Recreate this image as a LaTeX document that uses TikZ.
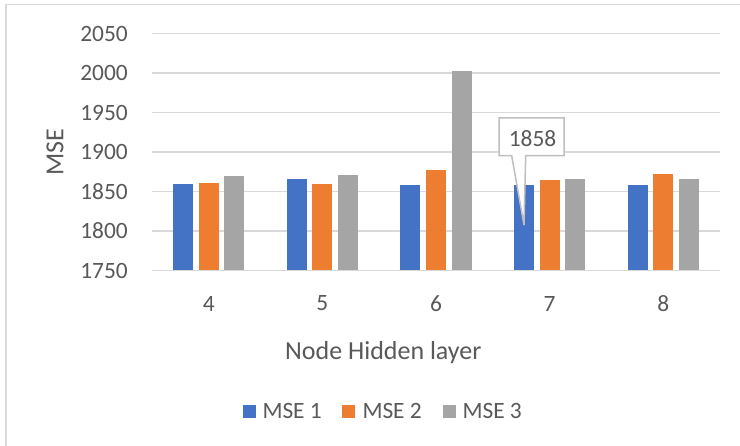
\documentclass[tikz,border=0pt]{standalone}
\usepackage{fontspec}
\setmainfont{Carlito}
\definecolor{txtgray}{HTML}{595959}
\definecolor{gridgray}{HTML}{D9D9D9}
\definecolor{bblue}{HTML}{4472C4}
\definecolor{borange}{HTML}{ED7D31}
\definecolor{bgray}{HTML}{A5A5A5}
\definecolor{callgray}{HTML}{BFBFBF}
\begin{document}
\begin{tikzpicture}[x=1pt,y=-1pt,
  ticklbl/.style={text=txtgray,font=\fontsize{23.4}{28}\selectfont,inner sep=0pt},
  titlelbl/.style={text=txtgray,font=\fontsize{26}{31}\selectfont,inner sep=0pt},
  gridline/.style={draw=gridgray,line width=1.5pt},
  framebox/.style={draw=gridgray,line width=1.5pt},
  legsq/.style={inner sep=0pt,minimum size=13pt},
  callbox/.style={draw=callgray,fill=white,line width=1.5pt,line join=miter}]
\useasboundingbox (0,0) rectangle (740,446);
\fill[white] (0,0) rectangle (740,446);
% outer chart frame (cropped at right and bottom)
\draw[framebox] (6,460) -- (6,4.7) -- (760,4.7);
% gridlines and value labels
\foreach \v in {1800,1850,1900,1950,2000,2050}{
  \pgfmathsetmacro{\yy}{270.5-(\v-1750)*0.79}
  \draw[gridline] (152,\yy) -- (720,\yy);
}
\foreach \v in {1750,1800,1850,1900,1950,2000,2050}{
  \pgfmathsetmacro{\yy}{270.5-(\v-1750)*0.79}
  \node[ticklbl,anchor=east] (t\v) at (128,\yy) {\v};
}
% bars
\foreach \i/\a/\b/\c in {0/1859.5/1860.4/1870,1/1865.4/1859.5/1870.9,2/1858.2/1877.2/2002.5,3/1858/1864.6/1866.2,4/1858.2/1872/1865.4}{
  \pgfmathsetmacro{\cx}{152+113.6*(\i+0.5)}
  \pgfmathsetmacro{\ya}{270.5-(\a-1750)*0.79}
  \pgfmathsetmacro{\yb}{270.5-(\b-1750)*0.79}
  \pgfmathsetmacro{\yc}{270.5-(\c-1750)*0.79}
  \fill[bblue] (\cx-35.6,270.5) rectangle (\cx-15.6,\ya);
  \fill[borange] (\cx-10,270.5) rectangle (\cx+10,\yb);
  \fill[bgray] (\cx+15.6,270.5) rectangle (\cx+35.6,\yc);
}
% category axis line
\draw[gridline] (152,270.5) -- (720,270.5);
% category labels
\foreach \i/\n in {0/4,1/5,2/6,3/7,4/8}{
  \pgfmathsetmacro{\cx}{152+113.6*(\i+0.5)}
  \node[ticklbl] (c\n) at (\cx,303.5) {\n};
}
% axis titles
\node[titlelbl,anchor=base] (xtitle) at (383.3,359.3) {Node Hidden layer};
\node[titlelbl,rotate=90] (ytitle) at (55,152) {MSE};
% data callout
\coordinate (tip) at (524,225);
\draw[callbox] (499,118) -- (564,118) -- (564,155.7) -- (525.7,155.7) -- (tip) -- (511.7,155.7) -- (499,155.7) -- cycle;
\node[ticklbl] (lab) at (532.5,138.7) {1858};
% legend
\node[legsq,fill=bblue] (l1) at (249,412) {};
\node[ticklbl,anchor=base west] (lt1) at (262.3,419) {MSE 1};
\node[legsq,fill=borange] (l2) at (348.4,412) {};
\node[ticklbl,anchor=base west] (lt2) at (362.3,419) {MSE 2};
\node[legsq,fill=bgray] (l3) at (449,412) {};
\node[ticklbl,anchor=base west] (lt3) at (462.3,419) {MSE 3};
\end{tikzpicture}
\end{document}
